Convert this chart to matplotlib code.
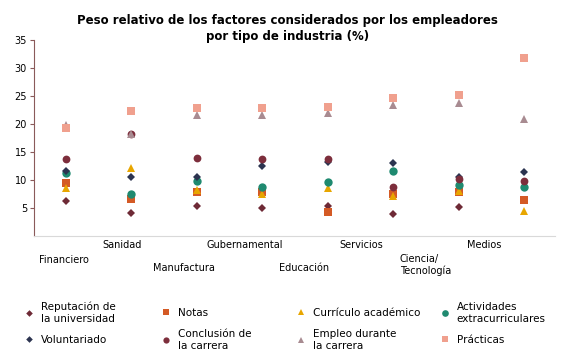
import matplotlib.pyplot as plt
from matplotlib.lines import Line2D

industries = ["Financiero", "Sanidad", "Manufactura", "Gubernamental",
              "Educación", "Servicios", "Ciencia/\nTecnología", "Medios"]

reputacion = [6.2, 4.2, 5.4, 5.1, 5.4, 3.9, 5.2, 6.4]
notas = [9.4, 6.7, 7.8, 7.8, 4.3, 7.6, 7.8, 6.4]
curriculo = [8.6, 12.1, 8.2, 7.6, 8.6, 7.2, 8.0, 4.5]
actividades = [11.3, 7.6, 9.8, 8.8, 9.6, 11.6, 9.2, 8.7]
voluntariado = [11.7, 10.6, 10.6, 12.5, 13.3, 13.1, 10.6, 11.4]
conclusion = [13.8, 18.3, 14.0, 13.7, 13.7, 8.8, 10.2, 9.9]
empleo = [19.8, 18.2, 21.6, 21.7, 21.9, 23.4, 23.8, 20.9]
practicas = [19.3, 22.4, 22.8, 22.9, 23.1, 24.6, 25.1, 31.8]

series = [
    ("Reputación de\nla universidad", reputacion, "D", "#6e2a36", 4.2),
    ("Notas", notas, "s", "#d45a25", 5.6),
    ("Currículo académico", curriculo, "^", "#e8a600", 6.2),
    ("Actividades\nextracurriculares", actividades, "o", "#1f8a70", 6.0),
    ("Voluntariado", voluntariado, "D", "#2c3450", 4.2),
    ("Conclusión de\nla carrera", conclusion, "o", "#7d2e3c", 5.6),
    ("Empleo durante\nla carrera", empleo, "^", "#a88b91", 6.2),
    ("Prácticas", practicas, "s", "#f0a08e", 6.0),
]

fig = plt.figure(figsize=(5.7, 3.54), dpi=100)
ax = fig.add_axes([0.0596, 0.333, 0.914, 0.554])

x = list(range(len(industries)))
for name, vals, mk, col, ms in series:
    ax.plot(x, vals, linestyle="none", marker=mk, color=col, markersize=ms,
            markeredgewidth=0)

ax.set_xlim(-0.49, 7.47)
ax.set_ylim(0, 35)
ax.set_yticks([5, 10, 15, 20, 25, 30, 35])
ax.tick_params(axis="y", labelsize=7, length=3, color="#8a5a5a", pad=2)
ax.set_xticks([])
for s in ["top", "right"]:
    ax.spines[s].set_visible(False)
ax.spines["left"].set_color("#8a5a5a")
ax.spines["bottom"].set_color("#d9d9d9")

# staggered category labels
fig_w = 570
label_px = [64, 122, 184, 245, 304, 361, 400, 484]
label_py = [260, 245, 268, 245, 268, 245, 265, 245]
for i, lab in enumerate(industries):
    if "\n" in lab:
        fig.text(label_px[i] / fig_w, 1 - label_py[i] / 354, lab, ha="left",
                 va="center", fontsize=7, linespacing=1.1)
    else:
        fig.text(label_px[i] / fig_w, 1 - label_py[i] / 354, lab, ha="center",
                 va="center", fontsize=7)

fig.text(0.505, 0.919, "Peso relativo de los factores considerados por los empleadores\n"
         "por tipo de industria (%)", ha="center", va="center", fontsize=8.5,
         fontweight="bold", linespacing=1.35)

# legend, one entry per slot
leg_x = [24, 161, 296, 440]
leg_y = [313, 340]
for k, (name, vals, mk, col, ms) in enumerate(series):
    r, c = divmod(k, 4)
    h = Line2D([], [], linestyle="none", marker=mk, color=col,
               markersize=ms * 0.8, markeredgewidth=0)
    lg = fig.legend([h], [name], loc="center left",
                    bbox_to_anchor=(leg_x[c] / fig_w, 1 - leg_y[r] / 354),
                    frameon=False, fontsize=7.5, handlelength=1.0,
                    handletextpad=0.6, borderpad=0, borderaxespad=0)

fig.savefig("out.png", dpi=100)
